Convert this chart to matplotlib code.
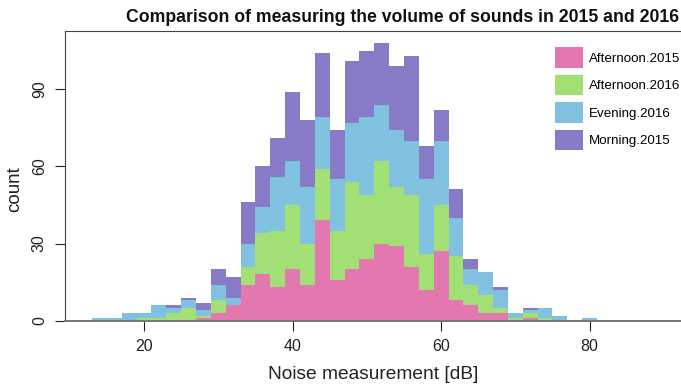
import matplotlib
matplotlib.use("Agg")
import matplotlib.pyplot as plt
import numpy as np

plt.rcParams['font.family'] = ['Liberation Sans', 'DejaVu Sans']

# bin left edges (2 dB wide bins)
bin_left = list(range(13, 81, 2))

# counts per bin, stacked bottom -> top
afternoon_2015 = [0, 0, 0, 0, 0, 0, 0, 1, 3, 6, 14, 18, 13, 20, 14, 39, 16,
                  20, 24, 30, 29, 21, 12, 27, 8, 6, 3, 3, 0, 1, 0, 0, 0, 0]
afternoon_2016 = [0, 0, 0, 1, 1, 3, 5, 1, 5, 0, 7, 16, 22, 25, 16, 20, 19,
                  34, 25, 32, 23, 28, 14, 18, 17, 8, 7, 2, 1, 2, 1, 0, 0, 0]
evening_2016 = [1, 1, 3, 2, 5, 2, 3, 2, 6, 3, 9, 10, 21, 17, 22, 20, 20,
                23, 30, 22, 22, 21, 29, 25, 15, 6, 9, 7, 2, 1, 4, 2, 0, 1]
morning_2015 = [0, 0, 0, 0, 0, 1, 1, 3, 6, 8, 16, 16, 15, 27, 26, 25, 19,
                24, 26, 24, 25, 33, 13, 12, 11, 4, 0, 1, 0, 1, 0, 0, 0, 0]

series = ["Afternoon.2015", "Afternoon.2016", "Evening.2016", "Morning.2015"]
colors = ["#E377B0", "#A2E076", "#80C1E0", "#877AC7"]

fig = plt.figure(figsize=(6.81, 3.88), dpi=100)
ax = fig.add_axes([65 / 681, 1 - 320.7 / 388, 1 - 65 / 681, (320.7 - 31) / 388])

bottom = np.zeros(len(bin_left))
for name, vals, col in zip(series, [afternoon_2015, afternoon_2016, evening_2016, morning_2015], colors):
    ax.bar(bin_left, vals, width=2, align='edge', bottom=bottom, color=col,
           label=name, linewidth=0)
    bottom += np.array(vals)

ax.set_xlim(9.37, 92.3)
ax.set_ylim(0, 112.6)
ax.set_xticks([20, 40, 60, 80])
ax.set_yticks([0, 30, 60, 90])
ax.tick_params(direction='out', length=7, width=0.8, labelsize=11.5, pad=6, colors='#222222')
for lab in ax.get_yticklabels():
    lab.set_rotation(90)
    lab.set_va('center')

ax.spines['right'].set_visible(False)
for s in ['left', 'top']:
    ax.spines[s].set_color('#444444')
    ax.spines[s].set_linewidth(0.8)
ax.spines['bottom'].set_color('#777777')
ax.spines['bottom'].set_linewidth(1.4)

ax.set_xlabel("Noise measurement [dB]", fontsize=13.8, labelpad=9, color='#222222')
ax.set_ylabel("count", fontsize=13.5, color='#222222')
ax.yaxis.set_label_coords(-0.068, 0.453)

fig.text(402 / 681, 1 - 18 / 388, "Comparison of measuring the volume of sounds in 2015 and 2016",
         ha='center', va='center', fontsize=12.7, fontweight='bold', color='#111111')

ax.legend(loc='upper left', bbox_to_anchor=(555 / 681, 1 - 47 / 388),
          bbox_transform=fig.transFigure, frameon=False, fontsize=9.6,
          handlelength=2.1, handleheight=2.0, labelspacing=0.52,
          handletextpad=0.45, borderpad=0, borderaxespad=0)

fig.savefig("out.png", dpi=100)
